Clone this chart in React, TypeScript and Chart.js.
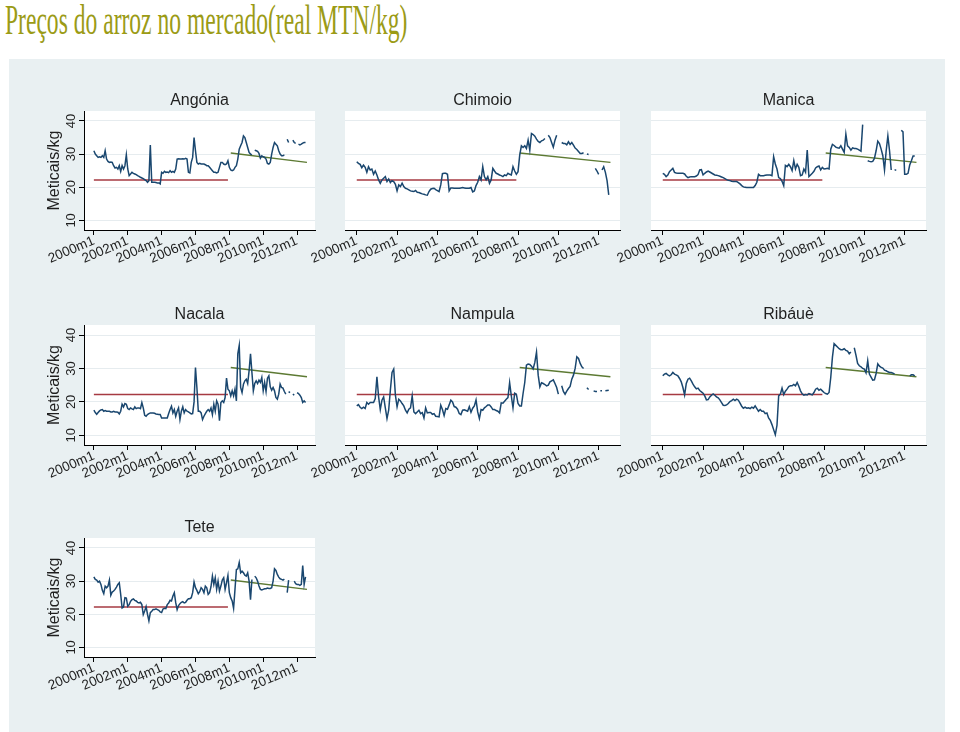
import React, { useEffect, useRef } from "react";
import { Chart, registerables } from "chart.js";

Chart.register(...registerables);

// ---- Data (monthly, index 0 = 2000m1 ... 150 = 2012m7) ----
const angonia: (number | null)[] = [
  31, 30, 29.5, 29, 29.2, 29, 29.5, 29, 31, 28.5,
  27.8, 27.5, 27.6, 27.5, 26.5, 25.8, 26, 25.5, 26.5, 24.8,
  26.5, 25.5, 26.5, 29.8, 25.5, 23.5, 24, 24.5, 24.2, 24,
  23.8, 23.5, 23.3, 23, 22.8, 22.6, 22.3, 22, 21.5, 22,
  32.7, 21.5, 21.5, 21.5, 21.4, 21.3, 21.3, 21, 24.5, 24.2,
  24.8, 24.5, 24.6, 24.4, 25, 24.5, 24.8, 24.5, 25.5, 28.5,
  28.6, 28.5, 28.5, 28.6, 28.5, 28.7, 28.5, 24.5, 24.3, 27.5,
  29, 35, 31, 27.5, 27, 27.2, 27, 27, 27, 26.8,
  26.5, 26.5, 26, 25.5, 25, 24.5, 24.5, 24.3, 24.5, 26,
  27.5, 27.5, 27, 26.8, 27, 28, 26, 25.2, 25, 25.2,
  26, 26.5, 28.5, 31.5, 32.5, 33.5, 35.5, 35, 33.5, 32,
  30.5, 30, 29.8, null, 31.2, 31, 30.8, 30.2, 28.8, 29.5,
  29.2, 29, 28.5, 27.2, 27, 27.5, 30, 32, 33.5, 33,
  32.5, 31, 30, 29.5, 29.5, 29.8, null, 34.5, 33.5, null,
  null, 34.2, 33.5, 33.2, null, 33, 32.8, 33, 33.3, 33.5, 33.5,
];

const chimoio: (number | null)[] = [
  27.7, 27.2, 26.9, 25.9, 26.7, 26.0, 24.5, 26.2, 25.2, 25.5,
  23.9, 24.9, 23.7, 22.2, 21.2, 22.2, 22.7, 23.2, 21.7, 22.5,
  21.4, 22.0, 21.7, 20.9, 18.9, 20.7, 20.2, 21.2, 20.2, 19.7,
  19.5, 19.2, 18.9, 18.8, 18.7, 19.0, 18.5, 18.4, 18.2, 18.0,
  17.9, 17.7, 17.6, 18.7, 19.4, 19.6, 19.7, 19.3, 19.0, 18.7,
  20.7, 24.1, 24.2, 24.2, 23.9, 18.9, 19.8, 19.8, 19.7, 19.7,
  19.7, 19.7, 19.8, 19.9, 19.8, 19.7, 19.7, 19.7, 19.9, 18.6,
  18.9, 20.5, 21.5, 23.2, 22.2, 26.2, 23.2, 22.2, 23.2, 21.2,
  22.2, 25.7, 24.9, 24.2, 24.0, 23.7, 23.5, 23.2, 23.7, 23.5,
  24.2, 23.9, 23.7, 26.2, 24.9, 23.9, 24.7, 29.7, 32.5, 32.0,
  32.5, 31.7, 34.2, 31.2, 36.2, 35.9, 35.4, 34.5, 33.8, 33.5,
  34.0, 34.2, 34.7, null, 35.7, 35.0, 33.5, 32.1, 34.2, 35.7,
  null, null, 33.5, 33.2, 33.2, 32.8, 33.7, 32.9, 33.5, 32.7,
  31.8, 31.4, 30.8, 30.2, 30.2, 30.4, null, 30.0, 29.9, null,
  null, null, 25.7, 24.9, 23.9, null, 25.2, 26.2, 24.5, 22.0, 17.7,
];

const manica: (number | null)[] = [
  24.2, 23.9, 23.2, 23.7, 24.7, 25.2, 25.7, 24.5, 24.3, 24.2,
  24.2, 24.2, 24.2, 24.0, 23.3, 22.9, 23.1, 23.2, 23.2, 23.2,
  23.4, 23.8, 25.2, 25.3, 23.7, 24.2, 24.6, 24.9, 24.6, 24.3,
  24.0, 23.7, 23.6, 23.5, 23.3, 23.1, 22.9, 22.6, 22.3, 22.1,
  22.0, 21.8, 21.7, 21.7, 21.7, 21.4, 21.0, 20.5, 20.1, 20.0,
  19.9, 19.9, 19.9, 19.9, 19.9, 20.5, 21.5, 23.9, 23.5, 23.5,
  23.5, 23.6, 23.7, 23.7, 23.7, 23.5, 29.2, 27.0, 25.5, 22.9,
  22.6, 21.8, 20.5, 26.6, 26.2, 26.9, 26.2, 25.0, 28.0, 25.5,
  26.9, 26.0, 23.5, 23.7, 25.5, 24.5, 31.2, 23.2, 23.7, 24.2,
  24.8, 25.8, 26.2, 26.4, 25.2, 26.0, 25.5, 25.6, 25.7, 25.5,
  31.5, 32.9, 32.6, 32.1, 31.9, 31.8, 32.5, 31.5, 30.5, 36.0,
  32.5, 32.0, 31.2, 31.9, 31.7, 31.7, 31.5, 31.2, 30.9, 38.9,
  null, null, 28.0, 27.8, 27.7, 27.8, 28.7, 31.0, 33.9, 33.2,
  31.5, 29.5, 25.2, 31.0, 35.5, 31.0, 25.2, null, 25.3, 25.1,
  null, null, 37.2, 36.7, 23.9, 23.9, 24.2, 26.7, 28.0, 29.4, 29.4,
];

const nacala: (number | null)[] = [
  17.5, 16.8, 16.3, 16.8, 17.3, 17.6, 17.7, 17.2, 17.4, 17.2,
  17.2, 17.2, 17.0, 17.0, 17.2, 17.0, 17.0, 16.9, 16.4, 17.2,
  19.3, 18.5, 19.5, 19.3, 18.0, 17.7, 18.2, 17.9, 17.7, 18.5,
  18.0, 18.2, 18.2, 18.0, 19.8, 18.2, 16.0, 15.7, 16.2, 16.5,
  16.7, 16.7, 16.7, 16.6, 16.4, 16.3, 16.2, 16.2, 15.2, 15.2,
  15.2, 15.2, 15.2, 16.5, 17.7, 18.7, 16.7, 17.7, 15.7, 17.2,
  18.2, 14.7, 17.2, 18.5, 16.7, 17.7, 17.2, 17.0, 16.7, 16.4,
  16.5, 20.0, 30.3, 24.3, 17.2, 17.2, 16.7, 14.7, 15.7, 16.5,
  17.2, 17.7, 17.2, 18.2, 16.2, 19.3, 17.2, 20.3, 19.3, 14.4,
  19.8, 20.3, 19.8, 21.3, 27.1, 23.8, 23.3, 21.8, 23.3, 21.8,
  23.8, 20.3, 34.4, 36.9, 24.3, 22.8, 25.3, 26.3, 26.8, 25.5,
  29.3, 34.4, 28.8, 23.3, 25.5, 26.3, 25.5, 26.5, 25.8, 27.3,
  23.3, 25.8, 23.1, 27.1, 27.8, 24.5, 23.5, 24.3, 23.3, 21.3,
  20.8, 22.3, 25.3, 24.3, 24.1, 23.1, 22.3, null, 23.1, 22.8,
  null, 22.3, 22.0, null, 22.8, 22.5, 22.0, 21.3, 19.8, 20.3, 19.8,
];

const nampula: (number | null)[] = [
  18.8, 19.2, 18.4, 18.0, 18.4, 18.0, 19.8, 19.3, 19.8, 19.8,
  19.8, 21.0, 27.5, 21.5, 17.7, 20.5, 21.5, 18.2, 15.0, 17.5,
  23.5, 28.8, 29.8, 22.0, 18.5, 20.8, 20.3, 19.5, 18.8, 17.5,
  16.7, 17.8, 18.2, 21.8, 17.0, 16.5, 17.0, 17.5, 16.5, 16.8,
  15.2, 18.2, 16.7, 16.8, 16.8, 16.3, 16.5, 15.7, 15.6, 15.5,
  19.0, 17.7, 15.9, 18.0, 17.8, 19.1, 20.5, 20.0, 18.6, 18.4,
  17.8, 16.5, 16.2, 17.5, 17.6, 17.4, 17.2, 18.6, 16.9, 18.1,
  18.8, 20.6, 17.0, 15.0, 17.7, 17.5, 18.2, 18.6, 19.1, 19.1,
  18.5, 17.7, 17.7, 17.4, 17.2, 16.7, 19.7, 19.6, 20.2, 20.8,
  21.3, 25.8, 21.8, 18.2, 22.6, 22.3, 19.5, 18.8, 18.8, 22.5,
  25.8, 31.0, 31.3, 31.2, 30.7, 29.9, 31.8, 34.9, 28.0, 24.5,
  25.7, 25.5, 25.2, 24.8, 25.0, 26.0, 26.3, 26.6, 25.5, 24.3,
  22.3, null, 24.8, 23.1, 22.3, 23.2, 24.0, 24.6, 26.8, 28.0,
  30.0, 33.5, 33.0, 31.5, 30.5, 30.0, null, 24.2, 23.7, null,
  null, 23.3, 23.1, 23.1, null, 23.3, 23.3, null, 23.3, 23.4, 23.5,
];

const ribaue: (number | null)[] = [
  27.8, 28.3, 28.5, 28.1, 27.8, 28.1, 28.8, 28.3, 28.1, 27.8,
  27.0, 26.0, 24.3, 22.1, 25.5, 26.8, 27.1, 26.3, 25.3, 24.5,
  23.9, 24.1, 23.4, 23.0, 22.6, 21.8, 20.6, 20.7, 21.5, 22.0,
  22.4, 22.0, 21.5, 21.2, 20.6, 19.8, 19.0, 18.9, 19.1, 19.5,
  20.1, 20.4, 20.8, 20.4, 20.8, 20.5, 19.6, 18.7, 18.1, 18.4,
  18.1, 18.2, 18.0, 18.4, 18.1, 18.8, 18.0, 17.2, 17.7, 17.2,
  17.2, 16.5, 16.7, 15.2, 14.5, 13.2, 11.7, 10.2, 13.0, 21.8,
  22.3, 24.1, 22.2, 23.2, 23.8, 24.6, 24.8, 24.8, 25.2, 24.8,
  25.8, 24.7, 23.3, 22.4, 22.0, 22.2, 22.1, 22.5, 22.3, 22.1,
  22.8, 23.8, 24.1, 23.5, 23.8, 23.3, 22.8, 22.5, 22.3, 22.8,
  27.3, 33.4, 37.4, 36.9, 36.4, 35.9, 35.6, 35.6, 35.9, 35.4,
  35.2, 34.4, 34.9, null, 36.2, 34.0, 31.5, 30.8, 30.5, 30.0,
  29.8, 28.7, 32.3, 28.3, 27.4, 26.5, 26.6, 28.5, 31.4, 30.7,
  30.3, 30.1, 29.5, 29.3, 29.0, 28.8, 28.8, 28.6, 28.3, null,
  null, null, null, null, null, null, null, 27.8, 28.1, 28.1, 27.8,
];

const tete: (number | null)[] = [
  31.3, 30.5, 30.3, 29.7, 30.0, 29.0, 27.2, 26.2, 28.5, 28.0,
  28.5, 30.3, 25.7, 26.7, 27.0, 27.5, 28.2, 29.0, 29.5, 26.0,
  21.9, 22.2, 25.0, 24.9, 22.4, 22.9, 23.9, 24.4, 24.6, 24.2,
  24.0, 23.6, 23.4, 23.6, 22.9, 19.9, 21.0, 22.3, 20.0, 18.0,
  20.5, 20.9, 21.4, 21.4, 21.6, 21.4, 21.2, 20.7, 20.5, 21.6,
  21.8, 21.7, 22.9, 23.4, 24.2, 24.0, 25.5, 26.5, 23.5, 21.4,
  22.6, 23.2, 23.6, 23.8, 23.4, 23.6, 24.2, 24.7, 24.7, 25.0,
  26.5, 29.7, 28.0, 27.2, 26.2, 26.8, 28.0, 27.5, 26.5, 28.5,
  28.0, 26.0, 26.5, 28.3, 31.5, 29.0, 31.0, 27.5, 30.0, 27.0,
  28.5, 30.3, 31.0, 27.5, 29.5, 31.7, 26.5, 25.0, 24.0, 21.8,
  27.5, 33.5, 33.7, 35.6, 32.5, 33.0, 32.5, 31.8, 31.5, 32.5,
  30.0, 24.4, 30.5, null, 31.5, 31.0, 30.0, 28.5, 27.5, 27.3,
  27.5, 27.7, 27.7, 27.9, 27.8, 27.8, 28.0, 30.0, 33.7, 33.2,
  32.0, 31.2, 30.7, 30.5, 30.3, 30.6, null, 26.5, 30.3, null,
  null, null, 30.0, 29.2, 29.0, 29.0, 28.7, 29.0, 34.7, 29.0, 31.3,
];

const marketNames = ["Angónia", "Chimoio", "Manica", "Nacala", "Nampula", "Ribáuè", "Tete"];
const marketSeries = [angonia, chimoio, manica, nacala, nampula, ribaue, tete];

// reference lines (month index, value)
const meanMonths = [0, 95];
const meanValues = [22.2, 22.2];
const trendMonths = [97, 151];
const trendValues = [30.3, 27.5];

// axis ticks
const xTickMonths = [0, 24, 48, 72, 96, 120, 144];
const xTickLabels = ["2000m1", "2002m1", "2004m1", "2006m1", "2008m1", "2010m1", "2012m1"];
const yTickValues = [10, 20, 30, 40];

// ---- Layout / style ----
const PANEL_BOXES = [
  { l: 83.5, t: 111, r: 314, b: 230, y: true },
  { l: 345, t: 111, r: 620, b: 230, y: false },
  { l: 651, t: 111, r: 926, b: 230, y: false },
  { l: 83.5, t: 324.5, r: 314, b: 444, y: true },
  { l: 345, t: 324.5, r: 620, b: 444, y: false },
  { l: 651, t: 324.5, r: 926, b: 444, y: false },
  { l: 83.5, t: 538, r: 314, b: 657, y: true },
];

const FONT = '"Liberation Sans", Arial, Helvetica, sans-serif';
const TEXT = "#1f1f1f";
const NAVY = "#1a476f";
const MAROON = "#a63a42";
const GREEN = "#5d7a33";
const GRIDC = "#e6ecef";

const PADL = 70;
const PADT = 35;
const PADR = 20;
const PADB = 65;

const whiteArea = {
  id: "whiteArea",
  beforeDraw(chart: any) {
    const { ctx, chartArea } = chart;
    ctx.save();
    ctx.fillStyle = "#ffffff";
    ctx.fillRect(chartArea.left, chartArea.top, chartArea.right - chartArea.left, chartArea.bottom - chartArea.top);
    ctx.restore();
  },
};

function Panel({ name, values, box }: { name: string; values: (number | null)[]; box: any }) {
  const ref = useRef<HTMLCanvasElement>(null);
  const width = Math.round(box.r - box.l + PADL + PADR);
  const height = Math.round(box.b - box.t + PADT + PADB);

  useEffect(() => {
    const yW = box.y ? 43 : 0;
    const xH = 50;
    const titleSize = 16;
    const titleH = titleSize * 1.2 + 0.4;
    const chart = new Chart(ref.current as HTMLCanvasElement, {
      type: "line",
      data: {
        datasets: [
          {
            data: values.map((v, i) => ({ x: i, y: v })),
            borderColor: NAVY,
            borderWidth: 1.5,
            pointRadius: 0,
            spanGaps: false,
            tension: 0,
          },
          {
            data: meanMonths.map((m, i) => ({ x: m, y: meanValues[i] })),
            borderColor: MAROON,
            borderWidth: 1.5,
            pointRadius: 0,
          },
          {
            data: trendMonths.map((m, i) => ({ x: m, y: trendValues[i] })),
            borderColor: GREEN,
            borderWidth: 1.5,
            pointRadius: 0,
          },
        ],
      } as any,
      options: {
        responsive: false,
        animation: false,
        devicePixelRatio: 1,
        layout: {
          padding: { left: PADL - yW, top: PADT - titleH, right: PADR, bottom: PADB - xH },
        },
        plugins: {
          legend: { display: false },
          tooltip: { enabled: false },
          title: {
            display: true,
            text: name,
            fullSize: false,
            color: TEXT,
            font: { family: FONT, size: titleSize, weight: "normal" },
            padding: { top: 0, bottom: 0.4 },
          },
        },
        scales: {
          x: {
            type: "linear",
            min: -7,
            max: 156.7,
            afterBuildTicks: (s: any) => {
              s.ticks = xTickMonths.map((v) => ({ value: v }));
            },
            afterFit: (s: any) => {
              s.height = xH;
            },
            ticks: {
              autoSkip: false,
              minRotation: 23,
              maxRotation: 23,
              padding: -2,
              color: TEXT,
              font: { family: FONT, size: 13.5 },
              callback: (v: any) => {
                const k = xTickMonths.indexOf(Number(v));
                return k >= 0 ? xTickLabels[k] : "";
              },
            },
            grid: {
              drawOnChartArea: false,
              drawTicks: true,
              tickLength: 5,
              color: "#000",
              tickColor: "#000",
            },
            border: { display: true, color: "#000", width: 1 },
          },
          y: {
            type: "linear",
            min: 7.1,
            max: 43,
            afterBuildTicks: (s: any) => {
              s.ticks = yTickValues.map((v) => ({ value: v }));
            },
            afterFit: (s: any) => {
              s.width = yW;
            },
            ticks: {
              display: box.y,
              minRotation: 90,
              maxRotation: 90,
              crossAlign: "center",
              padding: 0,
              color: TEXT,
              font: { family: FONT, size: 13 },
            },
            grid: {
              color: GRIDC,
              drawTicks: box.y,
              tickLength: 5,
              tickColor: "#000",
            },
            border: { display: box.y, color: "#000", width: 1 },
            title: {
              display: box.y,
              text: "Meticais/kg",
              color: TEXT,
              font: { family: FONT, size: 16 },
              padding: { top: 4, bottom: 4 },
            },
          },
        },
      } as any,
      plugins: [whiteArea],
    });
    return () => chart.destroy();
  }, []);

  return (
    <canvas
      ref={ref}
      width={width}
      height={height}
      style={{
        position: "absolute",
        left: box.l - PADL,
        top: box.t - PADT,
        width,
        height,
      }}
    />
  );
}

export default function App() {
  return (
    <div
      style={{
        position: "absolute",
        left: 0,
        top: 0,
        width: 960,
        height: 732,
        background: "#ffffff",
        overflow: "hidden",
      }}
    >
      <div
        style={{
          position: "absolute",
          left: 9,
          top: 59,
          width: 936,
          height: 673,
          background: "#e9f0f2",
        }}
      />
      <div
        style={{
          position: "absolute",
          left: 5,
          top: -2,
          fontFamily: '"Liberation Serif", "Times New Roman", serif',
          fontSize: 43,
          lineHeight: "43px",
          color: "#9b9b16",
          whiteSpace: "nowrap",
          transform: "scaleX(0.548)",
          transformOrigin: "left top",
        }}
      >
        Preços do arroz no mercado(real MTN/kg)
      </div>
      {marketNames.map((n, i) => (
        <Panel key={n} name={n} values={marketSeries[i]} box={PANEL_BOXES[i]} />
      ))}
    </div>
  );
}
